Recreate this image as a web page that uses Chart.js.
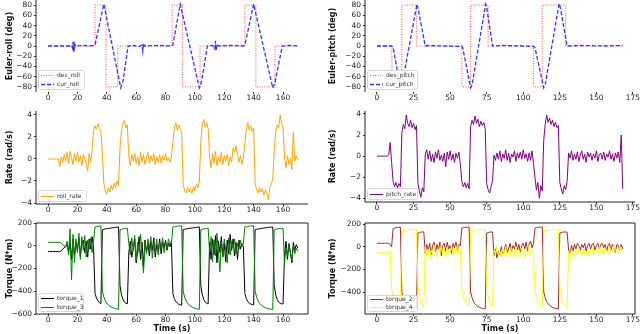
<!DOCTYPE html>
<html>
<head>
<meta charset="utf-8">
<script src="https://cdn.jsdelivr.net/npm/chart.js@4.4.1/dist/chart.umd.min.js"></script>
<style>
  html, body { margin: 0; padding: 0; background: #fff; }
  #wrap { position: relative; width: 640px; height: 334px; overflow: hidden; }
  canvas { position: absolute; }
</style>
</head>
<body>
<div id="wrap">
  <canvas id="rollAngle"></canvas>
  <canvas id="pitchAngle"></canvas>
  <canvas id="rollRateChart"></canvas>
  <canvas id="pitchRateChart"></canvas>
  <canvas id="rollTorque"></canvas>
  <canvas id="pitchTorque"></canvas>
</div>
<script>
// tick labels
const xTicksRoll = [0, 20, 40, 60, 80, 100, 120, 140, 160];
const xTicksPitch = [0, 25, 50, 75, 100, 125, 150, 175];
const angleTicks = [80, 60, 40, 20, 0, -20, -40, -60, -80];
const rateTicks = [4, 2, 0, -2, -4];
const torqueTicksRoll = [200, 0, -200, -400, -600];
const torqueTicksPitch = [200, 0, -200, -400];

// euler angles, [time, deg]
const desRoll = [[0,0],[32,0],[32,80],[39.5,80],[39.5,-80],[47.5,-80],[47.5,0],[84.5,0],[84.5,80],[91.5,80],
  [91.5,-80],[103.5,-80],[103.5,0],[134,0],[134,80],[141.5,80],[141.5,-80],[154.5,-80],[154.5,0],[170,0]];
const curRoll = [[0,0],[15,0],[16,1],[16.5,-3],[17,8],[17.3,-12],[17.6,10],[18,-4],[18.5,2],[19,0],[25,1],[28,0],
  [31,1],[32,2],[38,82],[49.5,-82],[51,-70],[54.5,0],[58,1],[62,-1],[64,2],[64.5,-10],[65,5],[65.5,0],[75,1],
  [84,0],[85,2],[90,82],[103,-82],[104.5,-70],[108.5,0],[112,1],[113.5,-6],[114,10],[114.5,-8],[115,3],[116,0],
  [125,1],[133,0],[134,2],[140,82],[153,-82],[154.5,-72],[159.5,0],[165,1],[170,0]];
const desPitch = [[0,0],[10.2,0],[10.2,-80],[17,-80],[17,80],[27,80],[27,0],[58,0],[58,-80],[64,-80],[64,80],
  [76,80],[76,0],[107,0],[107,-80],[113,-80],[113,80],[129,80],[129,0],[168,0]];
const curPitch = [[0,0],[10,0],[11,-2],[16,-82],[17,-78],[27.3,82],[28,75],[33,0],[35,1],[45,0],[58,-1],[58.6,-3],
  [64,-82],[65,-76],[74.3,82],[75,76],[79,0],[85,1],[100,0],[107,-1],[108,-3],[114,-82],[115,-76],[124.5,83],
  [125.3,76],[130,0],[140,1],[155,0],[168,1]];

// sampled signals, one value per second starting at t = 0
const SAMPLE_DT = 1;
const rollRate = [
  0,0,0,0,0,0,0,0,-0.7,0.2,
  -0.3,0.4,-0.2,0.6,-0.4,0.7,0.1,-0.5,0.5,-0.2,
  0.6,-0.3,0.3,-0.6,0.4,0.0,-0.4,-1.1,0.5,-0.3,
  0.8,2.6,3.0,2.7,3.2,2.8,2.5,0.5,-2.2,-2.9,
  -3.2,-2.6,-3.0,-2.4,-2.8,-2.2,-2.6,-2.0,-2.4,1.0,
  2.6,3.2,3.5,2.8,3.1,0.3,-0.6,0.4,-0.2,0.5,
  -0.4,0.2,-0.6,0.6,-0.3,0.4,-0.5,0.1,0.6,-0.4,
  0.3,-0.2,0.5,-0.5,0.2,-0.3,0.4,-0.4,0.3,-0.1,
  0.5,-0.2,0.1,-0.3,0.2,1.5,2.8,3.3,2.6,3.1,
  2.7,2.4,-2.3,-2.9,-3.1,-2.6,-3.0,-2.7,-3.1,-2.5,
  -2.9,-2.3,-2.6,-2.0,1.5,3.1,3.6,2.9,3.3,2.8,
  0.2,-0.8,0.5,-0.4,0.7,-0.6,0.2,-0.3,0.6,-0.5,
  0.3,-0.2,0.4,-0.6,0.2,-0.3,1.0,0.6,1.2,0.4,
  -0.3,0.3,-0.5,0.1,1.4,2.7,3.3,2.6,3.0,2.5,
  2.8,-2.2,-2.8,-3.1,-2.6,-3.0,-2.7,-3.3,-2.8,-3.1,
  -3.7,-2.6,-2.3,-1.8,0.8,2.5,3.1,2.8,4.0,3.2,
  2.9,0.1,-0.8,0.3,-0.5,0.1,-1.0,2.4,-0.2,0.3,
  -0.1];
const pitchRate = [
  0,0,0,0,0,0,0,0,0.1,1.3,
  -0.6,-2.4,-2.9,-2.5,-3.0,-2.6,-2.9,2.2,3.0,2.6,
  3.9,3.1,2.8,3.4,2.7,3.1,2.5,2.9,-2.6,-3.3,
  -3.9,-3.0,-3.4,0.2,0.6,-0.3,0.5,-0.5,0.2,-0.6,
  0.4,-0.2,0.6,-0.4,0.1,-0.5,0.3,-1.0,0.4,-0.3,
  0.5,-0.4,0.2,-0.6,0.3,-0.2,0.4,-0.8,-2.4,-2.9,
  -2.5,-3.0,-2.6,-3.1,2.8,3.4,3.0,3.8,3.1,3.5,
  2.8,3.3,2.9,3.2,2.6,-2.6,-3.2,-3.5,-2.9,-2.3,
  0.1,-0.4,0.3,-0.3,0.5,-0.5,0.2,-0.2,0.6,-0.4,
  0.3,-0.6,0.2,-0.1,0.5,-0.5,0.3,-0.2,0.4,-0.3,
  0.6,-0.2,0.2,-0.5,0.3,-0.4,0.5,-0.7,-2.0,-3.2,
  -2.5,-4.0,-2.8,-3.3,1.5,3.0,3.9,3.2,3.6,3.0,
  3.4,2.8,3.2,2.7,2.9,-2.5,-3.1,-3.6,-2.8,-3.2,
  -2.4,0.3,-0.2,0.5,-0.4,0.2,-0.3,0.4,-0.5,0.1,
  0.5,-0.3,0.2,-0.6,0.4,-0.1,0.3,-0.4,0.2,-0.2,
  0.5,-0.5,0.1,0.3,-0.3,0.4,-0.4,0.2,-0.1,0.5,
  -0.3,0.2,-0.5,0.3,-0.2,0.4,-0.6,2.0,-3.1];
const torque1 = [
  -50,-50,-50,-50,-50,-50,-50,-50,-50,-45,
  -30,-15,-10,20,-60,40,-120,60,-80,30,
  -40,70,-90,20,50,-60,40,-100,60,-30,
  80,-20,-420,-460,-485,-500,-510,140,145,148,
  150,152,154,156,158,160,162,163,165,-350,
  -430,-470,-495,-505,-510,-60,40,-100,-30,60,
  -150,-50,80,-120,30,-180,50,-60,20,-90,
  40,-40,70,-100,10,-50,60,-70,30,-20,
  50,-40,20,-10,40,-420,-465,-490,-505,-515,
  -520,-522,140,145,148,150,152,154,156,158,
  160,162,163,165,-350,-430,-470,-495,-505,-512,
  30,-120,60,-80,90,-150,40,-60,80,-100,
  20,-140,50,-70,100,-40,60,-90,30,-120,
  50,-30,20,-10,-420,-465,-490,-505,-512,-518,
  -520,140,144,147,150,152,154,156,158,160,
  162,163,164,165,-350,-430,-470,-495,-505,-510,
  -512,-80,40,-120,20,-60,-150,30,-40,10,
  -20];
const torque3 = [
  30,30,30,30,30,30,30,30,30,25,
  10,0,-10,40,-80,150,-300,100,-150,60,
  -60,110,-120,80,-40,90,-100,50,-30,70,
  -60,40,165,168,170,172,174,-400,-450,-485,
  -505,-520,-530,-538,-545,-550,-553,-556,-558,140,
  145,148,150,152,154,20,-80,70,-40,90,
  -130,30,-60,100,-90,-240,40,-70,60,-30,
  80,-110,20,-50,60,-80,30,-20,70,-60,
  40,-30,60,0,20,165,168,170,172,173,
  174,175,-400,-450,-485,-505,-520,-530,-538,-545,
  -550,-553,-556,-558,140,145,148,150,152,154,
  -60,80,-140,50,-90,110,-60,-230,30,-100,
  60,-40,-150,70,-80,40,-20,60,-70,20,
  -30,50,-10,20,165,168,170,172,173,174,
  175,-400,-450,-485,-505,-520,-530,-538,-545,-550,
  -553,-556,-558,-560,140,145,148,150,152,153,
  154,-150,-20,-90,10,-60,-130,0,-70,-20,
  -50];
const torque2 = [
  30,30,30,30,30,30,30,30,30,20,
  0,160,165,168,170,172,172,-400,-450,-485,
  -505,-518,-526,-532,-536,-538,-540,-540,120,125,
  128,130,130,-60,20,-40,30,-70,10,40,
  -50,20,-30,40,-80,10,30,-40,40,-20,
  10,-60,30,-10,40,-30,20,10,165,168,
  170,172,172,173,-400,-450,-485,-505,-518,-528,
  -535,-540,-544,-546,-548,120,125,128,130,130,
  -80,-20,-100,-40,-70,0,-60,-30,20,-50,
  -20,30,-40,10,-20,40,-30,20,-50,10,
  30,-20,40,-40,20,50,-10,30,165,168,
  170,172,172,173,-400,-450,-485,-505,-518,-528,
  -535,-540,-544,-546,-548,120,125,128,130,130,
  128,-30,-60,10,-40,20,-20,30,10,-30,
  20,-10,30,-40,10,30,-20,20,30,-30,
  10,30,-20,20,30,-10,20,-40,10,30,
  -30,20,-10,-50,20,10,-30,20,-20];
const torque4 = [
  -50,-50,-50,-50,-50,-50,-50,-50,-50,-40,
  -380,-440,-480,-500,-515,-522,-525,140,143,145,
  147,148,150,151,152,153,154,155,-350,-440,
  -490,-515,-528,0,-80,-20,-110,-30,-70,10,
  -60,-90,-20,-50,20,-70,-30,-90,0,-60,
  -40,10,-80,-20,-60,20,-50,-30,-380,-440,
  -480,-500,-515,-522,140,143,145,147,148,150,
  151,152,153,154,155,-350,-440,-490,-515,-528,
  -30,-60,10,-80,-40,-90,-20,-60,0,-100,
  -40,-70,-10,-50,-90,0,-60,-30,-80,-10,
  -50,-100,-30,-60,10,-70,-40,-60,-380,-440,
  -480,-500,-515,-522,140,143,145,147,148,150,
  151,152,153,154,155,-350,-440,-490,-515,-528,
  -530,-40,-80,-20,-60,-90,-30,-70,-10,-50,
  -80,-20,-60,-40,-90,-30,-50,-10,-70,-40,
  -20,-60,0,-50,-30,-70,-10,-40,-60,0,
  -30,-50,10,-40,-20,-60,0,-30,-50];

const FONT = "'DejaVu Sans', sans-serif";
Chart.defaults.font.family = FONT;

const pairs = (arr) => arr.map(([x, y]) => ({ x, y }));
const sampled = (arr) => arr.map((y, i) => ({ x: i * SAMPLE_DT, y }));
const minus = (v) => String(v).replace('-', '\u2212');

// matplotlib-like spines drawn over the lines
const spinePlugin = {
  id: 'spines',
  afterDatasetsDraw(chart, args, opts) {
    const { ctx, chartArea: a } = chart;
    const sides = opts.sides || [];
    ctx.save();
    ctx.strokeStyle = '#222';
    ctx.lineWidth = 1;
    ctx.beginPath();
    if (sides.includes('left')) { ctx.moveTo(a.left, a.top); ctx.lineTo(a.left, a.bottom); }
    if (sides.includes('bottom')) { ctx.moveTo(a.left, a.bottom); ctx.lineTo(a.right, a.bottom); }
    if (sides.includes('top')) { ctx.moveTo(a.left, a.top); ctx.lineTo(a.right, a.top); }
    if (sides.includes('right')) { ctx.moveTo(a.right, a.top); ctx.lineTo(a.right, a.bottom); }
    ctx.stroke();
    ctx.restore();
  }
};

// small framed legend in the lower left corner
const boxLegendPlugin = {
  id: 'boxLegend',
  afterDraw(chart, args, opts) {
    if (!opts.w) return;
    const { ctx, chartArea: a } = chart;
    const ds = chart.data.datasets;
    const x = Math.round(a.left + 2), y = Math.round(a.bottom - 3 - opts.h);
    ctx.save();
    ctx.fillStyle = 'rgba(255,255,255,0.85)';
    ctx.strokeStyle = '#d6d6d6';
    ctx.lineWidth = 1;
    ctx.beginPath();
    ctx.roundRect(x + 0.5, y + 0.5, opts.w, opts.h, 2);
    ctx.fill();
    ctx.stroke();
    ds.forEach((d, i) => {
      const cy = Math.round(y + (i + 0.5) * opts.h / ds.length) + 0.5;
      ctx.strokeStyle = d.borderColor;
      ctx.lineWidth = Math.max(1, d.borderWidth || 1);
      ctx.setLineDash(d.borderDash || []);
      ctx.beginPath();
      ctx.moveTo(x + 3, cy);
      ctx.lineTo(x + 16, cy);
      ctx.stroke();
      ctx.setLineDash([]);
      ctx.fillStyle = '#333';
      ctx.font = '6px ' + FONT;
      ctx.textBaseline = 'middle';
      ctx.fillText(d.label, x + 19, cy);
    });
    ctx.restore();
  }
};

function makePanel(id, p) {
  const canvas = document.getElementById(id);
  canvas.width = p.w;
  canvas.height = p.h;
  canvas.style.left = p.left + 'px';
  canvas.style.top = p.top + 'px';
  const tickFont = { family: FONT, size: 7.5 };
  const titleFont = { family: FONT, size: 8, weight: 'bold' };
  return new Chart(canvas, {
    type: 'line',
    data: { datasets: p.datasets },
    options: {
      responsive: false,
      animation: false,
      events: [],
      layout: { padding: p.pad },
      elements: { point: { radius: 0 }, line: { borderWidth: 1, tension: 0 } },
      plugins: {
        legend: { display: false },
        tooltip: { enabled: false },
        spines: { sides: p.spines },
        boxLegend: p.legend
      },
      scales: {
        x: {
          type: 'linear', min: p.xMin, max: p.xMax,
          afterFit: (s) => { s.height = p.xh; },
          afterBuildTicks: (s) => { s.ticks = p.xTicks.map((v) => ({ value: v })); },
          grid: { display: true, drawOnChartArea: false, drawTicks: true, tickLength: 2, color: '#333' },
          border: { display: false },
          ticks: { autoSkip: false, maxRotation: 0, padding: 0, color: '#222', font: tickFont, callback: (v) => minus(v) },
          title: p.xTitle
            ? { display: true, text: p.xTitle, color: '#111', font: titleFont, padding: { top: 0, bottom: 0 } }
            : { display: false }
        },
        y: {
          min: p.yMin, max: p.yMax,
          afterFit: (s) => { s.width = p.yw; },
          afterBuildTicks: (s) => { s.ticks = p.yTicks.map((v) => ({ value: v })); },
          grid: { display: true, drawOnChartArea: false, drawTicks: true, tickLength: 2, color: '#333' },
          border: { display: false },
          ticks: { autoSkip: false, padding: 2, color: '#222', font: tickFont, callback: (v) => minus(v) },
          title: { display: true, text: p.yTitle, color: '#111', font: titleFont, padding: { top: p.titlePad, bottom: 0 } }
        }
      }
    },
    plugins: [spinePlugin, boxLegendPlugin]
  });
}

const leftCol = { left: 0, w: 320, yw: 36, titlePad: 5, xMin: -8.2, xMax: 177, xTicks: xTicksRoll };
const rightCol = { left: 320, w: 325, yw: 45, titlePad: 8, xMin: -8.2, xMax: 176.4, xTicks: xTicksPitch };

makePanel('rollAngle', Object.assign({}, leftCol, {
  top: -8, h: 112, pad: { top: 8, right: 12, left: 0, bottom: 0 }, xh: 12,
  yMin: -90.2, yMax: 90.2, yTicks: angleTicks, yTitle: 'Euler-roll (deg)',
  spines: ['left'], legend: { w: 46, h: 19 },
  datasets: [
    { label: 'des_roll', data: pairs(desRoll), borderColor: 'rgba(255,0,0,0.6)', borderDash: [1, 1.5], borderWidth: 1.2, order: 2 },
    { label: 'cur_roll', data: pairs(curRoll), borderColor: 'rgba(0,0,255,0.8)', borderDash: [4, 2], borderWidth: 1.3, order: 1 }
  ]
}));
makePanel('pitchAngle', Object.assign({}, rightCol, {
  top: -8, h: 112, pad: { top: 8, right: 10, left: 0, bottom: 0 }, xh: 12,
  yMin: -90.2, yMax: 90.2, yTicks: angleTicks, yTitle: 'Euler-pitch (deg)',
  spines: ['left'], legend: { w: 50, h: 19 },
  datasets: [
    { label: 'des_pitch', data: pairs(desPitch), borderColor: 'rgba(255,0,0,0.6)', borderDash: [1, 1.5], borderWidth: 1.2, order: 2 },
    { label: 'cur_pitch', data: pairs(curPitch), borderColor: 'rgba(0,0,255,0.8)', borderDash: [4, 2], borderWidth: 1.3, order: 1 }
  ]
}));
makePanel('rollRateChart', Object.assign({}, leftCol, {
  top: 103, h: 113, pad: { top: 8, right: 12, left: 0, bottom: 0 }, xh: 12,
  yMin: -4.09, yMax: 4.36, yTicks: rateTicks, yTitle: 'Rate (rad/s)',
  spines: ['left', 'bottom'], legend: { w: 48, h: 11 },
  datasets: [
    { label: 'roll_rate', data: sampled(rollRate), borderColor: '#ffa500', borderWidth: 1 }
  ]
}));
makePanel('pitchRateChart', Object.assign({}, rightCol, {
  top: 103, h: 113, pad: { top: 8, right: 10, left: 0, bottom: 0 }, xh: 14,
  yMin: -4.35, yMax: 4.28, yTicks: rateTicks, yTitle: 'Rate (rad/s)',
  spines: ['left', 'bottom'], legend: { w: 50, h: 11 },
  datasets: [
    { label: 'pitch_rate', data: sampled(pitchRate), borderColor: '#800080', borderWidth: 1 }
  ]
}));
makePanel('rollTorque', Object.assign({}, leftCol, {
  top: 215, h: 119, pad: { top: 8, right: 12, left: 0, bottom: 0 }, xh: 20, xTitle: 'Time (s)',
  yMin: -600, yMax: 200, yTicks: torqueTicksRoll, yTitle: 'Torque (N*m)',
  spines: ['left', 'bottom', 'top', 'right'], legend: { w: 45, h: 18 },
  datasets: [
    { label: 'torque_1', data: sampled(torque1), borderColor: '#000000', borderWidth: 1, order: 2 },
    { label: 'torque_3', data: sampled(torque3), borderColor: '#008000', borderWidth: 1, order: 1 }
  ]
}));
makePanel('pitchTorque', Object.assign({}, rightCol, {
  top: 215, h: 119, pad: { top: 8, right: 10, left: 0, bottom: 0 }, xh: 20, xTitle: 'Time (s)',
  yMin: -594, yMax: 209, yTicks: torqueTicksPitch, yTitle: 'Torque (N*m)',
  spines: ['left', 'bottom', 'top', 'right'], legend: { w: 50, h: 16 },
  datasets: [
    { label: 'torque_2', data: sampled(torque2), borderColor: '#a52a2a', borderWidth: 1, order: 2 },
    { label: 'torque_4', data: sampled(torque4), borderColor: '#ffff00', borderWidth: 1, order: 1 }
  ]
}));
</script>
</body>
</html>
